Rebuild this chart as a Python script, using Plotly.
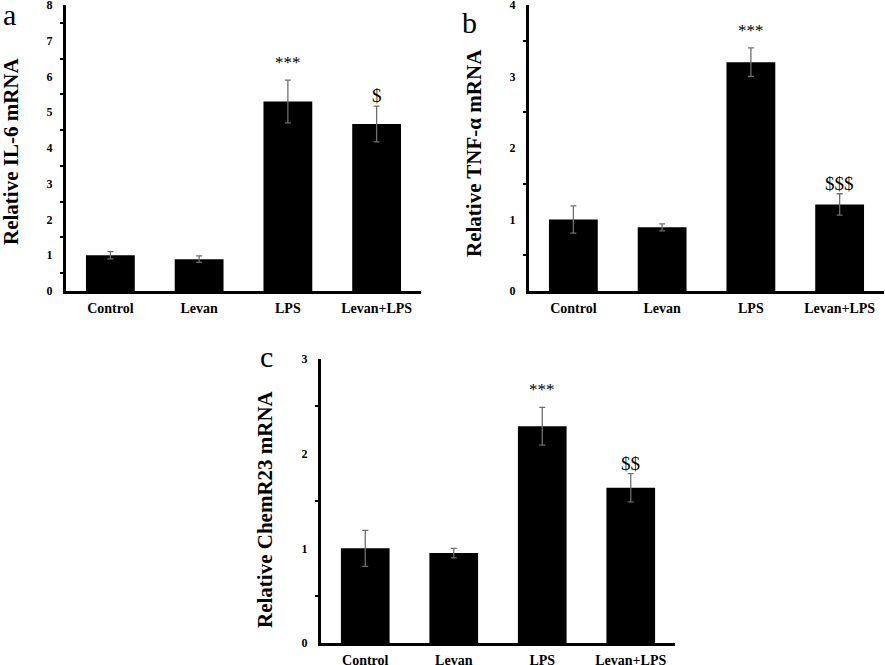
import plotly.graph_objects as go

categories = ["Control", "Levan", "LPS", "Levan+LPS"]

il6 = [1.0, 0.89, 5.3, 4.67]
il6_err = [0.1, 0.09, 0.6, 0.5]
il6_sig = ["", "", "***", "$"]

tnf = [1.0, 0.89, 3.2, 1.21]
tnf_err = [0.19, 0.05, 0.2, 0.15]
tnf_sig = ["", "", "***", "$$$"]

chem = [1.0, 0.95, 2.29, 1.64]
chem_err = [0.19, 0.05, 0.2, 0.15]
chem_sig = ["", "", "***", "$$"]

FONT = "Liberation Serif"
W, H = 885, 665

fig = go.Figure()

panels = [
    ("x", "y", il6, il6_err, il6_sig),
    ("x2", "y2", tnf, tnf_err, tnf_sig),
    ("x3", "y3", chem, chem_err, chem_sig),
]
for xa, ya, vals, errs, sigs in panels:
    fig.add_trace(go.Bar(
        x=categories, y=vals, xaxis=xa, yaxis=ya,
        marker=dict(color="black", line=dict(width=0)),
        error_y=dict(type="data", array=errs, visible=True,
                     color="#6e6e6e", thickness=1.3, width=3),
        showlegend=False,
    ))
    for c, v, e, s in zip(categories, vals, errs, sigs):
        if s:
            star = s.startswith("*")
            fig.add_annotation(
                x=c, y=v + e, xref=xa, yref=ya,
                text=s, showarrow=False,
                yanchor="bottom",
                yshift=6 if star else -2,
                font=dict(family=FONT, size=17 if star else 19, color="black"),
            )

def xaxis(domain):
    return dict(
        domain=domain, type="category", range=[-0.5, 3.5],
        showline=True, linecolor="black", linewidth=3,
        ticks="", showgrid=False, zeroline=False, automargin=False,
        tickfont=dict(family=FONT, size=14, color="black", weight="bold"),
        ticklabelstandoff=2, ticklabeloverflow="allow",
    )

def yaxis(domain, rng, anchor):
    return dict(
        domain=domain, range=rng, anchor=anchor,
        showline=True, linecolor="black", linewidth=3,
        dtick=1, ticks="", showgrid=False, zeroline=False, automargin=False,
        minor=dict(dtick=0.5, ticks="outside", ticklen=3, tickwidth=2, tickcolor="black"),
        tickfont=dict(family=FONT, size=12, color="black", weight="bold"),
        ticklabelstandoff=8, ticklabeloverflow="allow",
    )

ya_dom = [1 - 291 / H, 1 - 5 / H]
yc_dom = [1 - 643 / H, 1 - 359 / H]

fig.update_layout(
    width=W, height=H,
    margin=dict(l=0, r=0, t=0, b=0, autoexpand=False),
    plot_bgcolor="white", paper_bgcolor="white",
    bargap=0.45,
    xaxis=dict(**xaxis([66 / W, 421 / W]), anchor="y"),
    yaxis=yaxis(ya_dom, [0, 8], "x"),
    xaxis2=dict(**xaxis([529 / W, 884 / W]), anchor="y2"),
    yaxis2=yaxis(ya_dom, [0, 4], "x2"),
    xaxis3=dict(**xaxis([321 / W, 675 / W]), anchor="y3"),
    yaxis3=yaxis(yc_dom, [0, 3], "x3"),
)

# y-axis titles
titles = [
    ("Relative IL-6 mRNA", 11, 152),
    ("Relative TNF-\u03b1 mRNA", 474, 153),
    ("Relative ChemR23 mRNA", 265, 509),
]
for t, px, py in titles:
    fig.add_annotation(
        x=px / W, y=1 - py / H, xref="paper", yref="paper",
        text=t, textangle=-90, showarrow=False,
        xanchor="center", yanchor="middle",
        font=dict(family=FONT, size=21, color="black", weight="bold"),
    )

# panel letters
for t, px, py in [("a", 9, 15), ("b", 469, 23), ("c", 266, 356)]:
    fig.add_annotation(
        x=px / W, y=1 - py / H, xref="paper", yref="paper",
        text=t, showarrow=False, xanchor="center", yanchor="middle",
        font=dict(family=FONT, size=30, color="black"),
    )

fig.write_html(
    "out.html",
    config={"displayModeBar": False},
    post_script="document.body.style.margin='0';document.body.style.overflow='hidden';",
)
